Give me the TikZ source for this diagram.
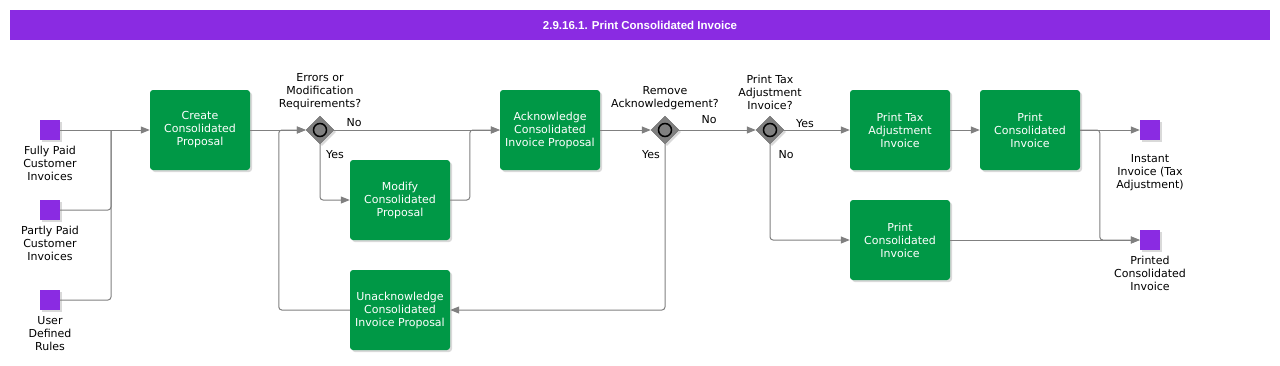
\documentclass[tikz,border=0pt]{standalone}
\usepackage{fontspec}
\setmainfont{DejaVu Sans}
\newfontfamily\titlefont{Liberation Sans}
\usetikzlibrary{arrows.meta,shapes.geometric,shadows,calc}
\definecolor{bpmnpurple}{RGB}{138,43,226}
\definecolor{bpmngreen}{RGB}{0,152,70}
\definecolor{flowgray}{RGB}{128,128,128}
\tikzset{
  boxshadow/.style={drop shadow={shadow xshift=2pt,shadow yshift=-2pt,opacity=0.3}},
  task/.style={rectangle,rounded corners=3pt,fill=bpmngreen,text=white,boxshadow,
    minimum width=100pt,minimum height=80pt,inner sep=0pt,align=center,
    font=\fontsize{11}{13}\selectfont},
  datasq/.style={rectangle,fill=bpmnpurple,minimum size=20pt,inner sep=0pt,boxshadow},
  gate/.style={diamond,fill=flowgray,draw=gray!80!black,minimum width=28pt,
    minimum height=28pt,inner sep=0pt,boxshadow},
  ring/.style={circle,draw=black,line width=1.5pt,fill=flowgray,minimum size=13pt,inner sep=0pt},
  txt/.style={align=center,font=\fontsize{11}{13}\selectfont,inner sep=0pt},
  line/.style={draw=flowgray,line width=1pt,rounded corners=3pt},
  flow/.style={line,-{Triangle[length=9pt,width=7pt]}}
}
\begin{document}
\begin{tikzpicture}[x=1pt,y=-1pt]
   \useasboundingbox (0,0) rectangle (1280,365);
   % title bar
   \fill[bpmnpurple] (10,10) rectangle (1270,40);
   \node[text=white,font=\titlefont\bfseries\fontsize{11.5}{13}\selectfont] (title) at (640,25)
     {2.9.16.1. Print Consolidated Invoice};
   % data inputs and outputs
   \node[datasq] (src1) at (50,130) {};
   \node[datasq] (src2) at (50,210) {};
   \node[datasq] (src3) at (50,300) {};
   \node[datasq] (sink1) at (1150,130) {};
   \node[datasq] (sink2) at (1150,240) {};
   \node[txt,anchor=north] (src1-lbl) at ([yshift=-6pt]src1.south) {Fully Paid\\Customer\\Invoices};
   \node[txt,anchor=north] (src2-lbl) at ([yshift=-6pt]src2.south) {Partly Paid\\Customer\\Invoices};
   \node[txt,anchor=north] (src3-lbl) at ([yshift=-6pt]src3.south) {User\\Defined\\Rules};
   \node[txt,anchor=north] (sink1-lbl) at ([yshift=-14pt]sink1.south) {Instant\\Invoice (Tax\\Adjustment)};
   \node[txt,anchor=north] (sink2-lbl) at ([yshift=-6pt]sink2.south) {Printed\\Consolidated\\Invoice};
   % tasks
   \node[task] (create) at (200,130) {Create\\Consolidated\\Proposal};
   \node[task] (modify) at (400,200) {Modify\\Consolidated\\Proposal};
   \node[task] (unack)  at (400,310) {Unacknowledge\\Consolidated\\Invoice Proposal};
   \node[task] (ack)    at (550,130) {Acknowledge\\Consolidated\\Invoice Proposal};
   \node[task] (ptax)   at (900,130) {Print Tax\\Adjustment\\Invoice};
   \node[task] (pci1)   at (1030,130) {Print\\Consolidated\\Invoice};
   \node[task] (pci2)   at (900,240) {Print\\Consolidated\\Invoice};
   % gateways
   \node[gate] (g1) at (320,130) {};
   \node[gate] (g2) at (665,130) {};
   \node[gate] (g3) at (770,130) {};
   \node[ring] (g1-ring) at (g1) {};
   \node[ring] (g2-ring) at (g2) {};
   \node[ring] (g3-ring) at (g3) {};
   \node[txt,anchor=south] (g1-lbl) at ([yshift=6pt]g1.north) {Errors or\\Modification\\Requirements?};
   \node[txt,anchor=south] (g2-lbl) at ([yshift=6pt]g2.north) {Remove\\Acknowledgement?};
   \node[txt,anchor=south] (g3-lbl) at ([yshift=6pt]g3.north) {Print Tax\\Adjustment\\Invoice?};
   % branch labels
   \node[txt] (g1-no)  at ($(g1)+(34,-7)$) {No};
   \node[txt] (g1-yes) at ($(g1)+(15,25)$) {Yes};
   \node[txt] (g2-no)  at ($(g2)+(44,-10)$) {No};
   \node[txt] (g2-yes) at ($(g2)+(-14,25)$) {Yes};
   \node[txt] (g3-yes) at ($(g3)+(35,-6)$) {Yes};
   \node[txt] (g3-no)  at ($(g3)+(16,25)$) {No};
   % connectors
   \coordinate (join) at (111,130);
   \draw[flow] (src1) -- (create);
   \draw[line] (src2) -| (join);
   \draw[line] (src3) -| (join);
   \draw[flow] (create) -- (g1);
   \draw[flow] (g1) -- (ack);
   \draw[flow] (g1.south) |- (modify);
   \draw[flow] (modify) -| ([xshift=-30pt]ack.west) -- (ack);
   \draw[flow] (unack) -| ([xshift=-27pt]g1.west) -- (g1);
   \draw[flow] (ack) -- (g2);
   \draw[flow] (g2.south) |- (unack);
   \draw[flow] (g2) -- (g3);
   \draw[flow] (g3) -- (ptax);
   \draw[flow] (g3.south) |- (pci2);
   \draw[flow] (ptax) -- (pci1);
   \draw[flow] (pci1) -- (sink1);
   \draw[flow] (pci1) -| ([xshift=-40pt]sink2.west) -- (sink2);
   \draw[flow] (pci2) -- (sink2);
\end{tikzpicture}
\end{document}
